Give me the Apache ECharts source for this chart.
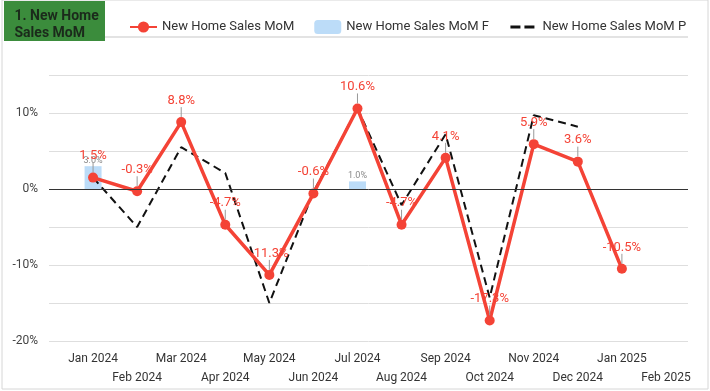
<!DOCTYPE html>
<html>
<head>
<meta charset="utf-8">
<script src="https://cdn.jsdelivr.net/npm/echarts@6/dist/echarts.min.js"></script>
<style>
html,body{margin:0;padding:0;background:#fff;}
#chart{width:710px;height:391px;}
</style>
</head>
<body>
<div id="chart"></div>
<script>
const categories = ['Jan 2024','Feb 2024','Mar 2024','Apr 2024','May 2024','Jun 2024','Jul 2024','Aug 2024','Sep 2024','Oct 2024','Nov 2024','Dec 2024','Jan 2025','Feb 2025'];
const momValues = [1.5, -0.3, 8.8, -4.7, -11.3, -0.6, 10.6, -4.7, 4.1, -17.3, 5.9, 3.6, -10.5, null];
const forecastValues = [3.0, null, null, null, null, null, 1.0, null, null, null, null, null, null, null];
const priorValues = [1.5, -5.0, 5.5, 2.1, -15.0, -0.4, 10.6, -2.1, 7.2, -14.3, 9.7, 8.2, null, null];
const yTicks = [-20, -10, 0, 10];

const toPairs = arr => arr.map((v, i) => [i, v]).filter(p => p[1] !== null);

const chart = echarts.init(document.getElementById('chart'));
const font = 'Roboto, "Noto Sans", sans-serif';
chart.setOption({
  animation: false,
  textStyle: { fontFamily: font },
  grid: { left: 49, right: 22, top: 75, bottom: 50 },
  legend: {
    top: 15, left: 124, itemGap: 20, itemWidth: 27, itemHeight: 14,
    textStyle: { fontSize: 13, color: '#333', fontFamily: font },
    data: [
      { name: 'New Home Sales MoM' },
      { name: 'New Home Sales MoM F' },
      { name: 'New Home Sales MoM P', itemStyle: { opacity: 0 }, lineStyle: { width: 3, type: [10, 4] } }
    ]
  },
  xAxis: {
    type: 'value', min: -1, max: 13.5, interval: 1,
    splitLine: { show: false }, axisLine: { show: false }, axisTick: { show: false },
    axisLabel: {
      margin: 8, fontSize: 12, color: '#333', lineHeight: 19, fontFamily: font,
      showMinLabel: true, showMaxLabel: true,
      formatter: v => {
        if (!Number.isInteger(v) || v < 0 || v >= categories.length) return '';
        return v % 2 ? '\n' + categories[v] : categories[v];
      }
    }
  },
  yAxis: {
    type: 'value', min: -20, max: 15, interval: 5,
    axisLine: { show: false }, axisTick: { show: false },
    splitLine: { lineStyle: { color: '#dedede', width: 1 } },
    axisLabel: {
      margin: 11, fontSize: 12, color: '#444', fontFamily: font,
      formatter: v => yTicks.includes(v) ? v + '%' : ''
    }
  },
  graphic: [
    { type: 'rect', shape: { x: 2, y: 0, width: 706, height: 389 }, style: { fill: 'none', stroke: '#d6d6d6', lineWidth: 1 }, z: -1 },
    { type: 'line', shape: { x1: 105, y1: 37, x2: 688, y2: 37 }, style: { stroke: '#e3e3e3', lineWidth: 2 } },
    { type: 'rect', shape: { x: 4, y: 1, width: 101, height: 40 }, style: { fill: '#3b8c3c' } },
    { type: 'text', left: 54.5 - 40, top: 8, style: { text: '1. New Home\nSales MoM', x: 0, y: 0, width: 80, align: 'center', fill: '#1b2a1b', font: 'bold 14px Roboto', lineHeight: 17 } }
  ],
  series: [
    {
      name: 'New Home Sales MoM F', type: 'bar', barWidth: 17,
      data: toPairs(forecastValues),
      itemStyle: { color: '#bcdcf8' },
      label: { show: true, position: 'top', distance: 1, fontSize: 9, color: '#888', formatter: p => p.value[1].toFixed(1) + '%' },
      z: 1
    },
    {
      name: 'New Home Sales MoM P', type: 'line', data: toPairs(priorValues),
      symbol: 'none', lineStyle: { color: '#111', width: 2, type: [8, 5] },
      itemStyle: { color: '#111' }, z: 2
    },
    {
      name: 'New Home Sales MoM', type: 'line', data: toPairs(momValues),
      symbol: 'circle', symbolSize: 10,
      lineStyle: { color: '#f44336', width: 3.5 }, itemStyle: { color: '#f44336' },
      label: { show: true, position: 'top', distance: 5, fontSize: 13, color: '#f44336', formatter: p => p.value[1].toFixed(1) + '%' },
      labelLayout: { dy: -5 },
      labelLine: { show: true, lineStyle: { color: '#999', width: 1 } },
      markLine: {
        silent: true, symbol: 'none', label: { show: false },
        lineStyle: { color: '#333', width: 1, type: 'solid' },
        data: [{ yAxis: 0 }]
      },
      z: 3
    }
  ]
});
</script>
</body>
</html>
